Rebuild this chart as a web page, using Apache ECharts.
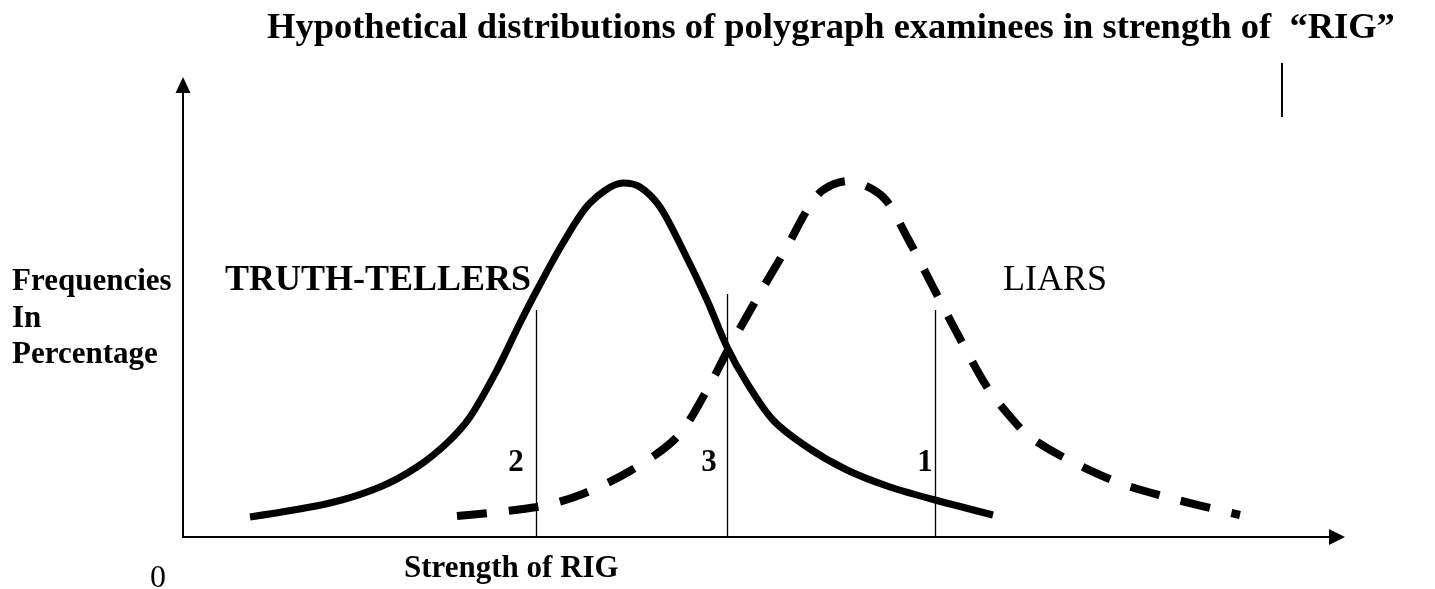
<!DOCTYPE html>
<html>
<head>
<meta charset="utf-8">
<script src="https://cdn.jsdelivr.net/npm/echarts@6/dist/echarts.min.js"></script>
<style>
html,body{margin:0;padding:0;background:#fff;}
#chart{width:1435px;height:589px;}
</style>
</head>
<body>
<div id="chart"></div>
<script>
// Units: arbitrary strength (x) and frequency (y) units
var truthTellers = [
  [67,20],[147,34],[197,50],[234,70],[264,94],[287,120],[314,167],[337,214],[354,247],
  [380,294],[407,334],[440,354],[457,350],[477,330],[500,287],[524,237],[544,190],
  [564,154],[590,117],[624,90],[664,67],[707,50],[752,37],[810,22]
];
var liars = [
  [274,21],[354,30],[397,42],[447,66],[494,100],[524,147],[545,187],[577,244],[604,290],
  [624,327],[640,347],[665,356],[700,340],[724,300],[750,250],[774,204],[804,150],
  [830,117],[847,100],[880,80],[934,55],[987,39],[1057,22]
];
var cutoffX = [353, 544, 752];
var cutoffTop = [227, 243, 227];
var cutoffLabels = ['2', '3', '1'];
var cutoffLabelPos = [[333,74],[526,74],[742,74]];
var xMax = 1154;
var yMax = 452;

var titleText = 'Hypothetical distributions of polygraph examinees in strength of  \u201cRIG\u201d';
var yNameLines = ['Frequencies', 'In', 'Percentage'];
var xName = 'Strength of RIG';
var originLabel = '0';
var truthName = 'TRUTH-TELLERS';
var liarName = 'LIARS';

var serif = "'Liberation Serif', 'Times New Roman', serif";
var chart = echarts.init(document.getElementById('chart'), null, {renderer: 'canvas'});

var markLines = cutoffX.map(function (x, i) {
  return [{coord: [x, 0]}, {coord: [x, cutoffTop[i]]}];
});
var labelData = cutoffLabels.map(function (t, i) {
  return {name: t, value: cutoffLabelPos[i]};
});

function txt(text, x, y, size, bold) {
  return {
    type: 'text', x: x, y: y, z: 0,
    style: {text: text, font: (bold ? 'bold ' : '') + size + 'px ' + serif, fill: '#000',
            align: 'left', verticalAlign: 'middle'}
  };
}

var graphics = [
  txt(titleText, 267, 29, 36.5, true),
  txt(yNameLines[0], 12, 282, 31, true),
  txt(yNameLines[1], 12, 319, 31, true),
  txt(yNameLines[2], 12, 355, 31, true),
  txt(truthName, 225, 281, 36, true),
  txt(liarName, 1003, 281, 36, false),
  txt(xName, 404, 569, 31, true),
  txt(originLabel, 150, 579, 32, false),
  {type: 'line', shape: {x1: 1282, y1: 63, x2: 1282, y2: 117}, style: {stroke: '#000', lineWidth: 2}}
];

chart.setOption({
  animation: false,
  backgroundColor: '#fff',
  grid: {left: 183, right: 98, top: 85, bottom: 52},
  xAxis: {
    type: 'value', min: 0, max: xMax,
    axisLine: {show: true, onZero: false, symbol: ['none', 'triangle'], symbolSize: [16, 16],
               lineStyle: {color: '#000', width: 2}},
    axisTick: {show: false}, axisLabel: {show: false}, splitLine: {show: false}
  },
  yAxis: {
    type: 'value', min: 0, max: yMax,
    axisLine: {show: true, onZero: false, symbol: ['none', 'triangle'], symbolSize: [15, 16],
               lineStyle: {color: '#000', width: 2}},
    axisTick: {show: false}, axisLabel: {show: false}, splitLine: {show: false}
  },
  graphic: graphics,
  series: [
    {
      name: truthName, type: 'line', data: truthTellers, smooth: 0.3, showSymbol: false,
      lineStyle: {color: '#000', width: 7, cap: 'butt'}, z: 3,
      markLine: {
        silent: true, symbol: ['none', 'none'], label: {show: false},
        lineStyle: {color: '#000', width: 1.3, type: 'solid'},
        data: markLines
      }
    },
    {
      name: liarName, type: 'line', data: liars, smooth: 0.3, showSymbol: false,
      lineStyle: {color: '#000', width: 8, type: [30, 22], cap: 'butt'}, z: 3
    },
    {
      type: 'scatter', data: labelData, symbolSize: 0, silent: true,
      itemStyle: {color: 'rgba(0,0,0,0)', opacity: 1},
      label: {show: true, position: 'inside', formatter: '{b}', color: '#000',
              textBorderWidth: 0, opacity: 1,
              fontFamily: serif, fontWeight: 'bold', fontSize: 31}
    }
  ]
});
</script>
</body>
</html>
